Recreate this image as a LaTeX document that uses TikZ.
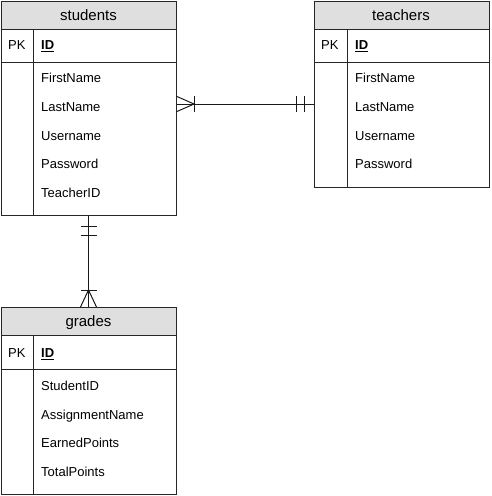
\documentclass[tikz,border=0pt]{standalone}
\usepackage{fontspec}
\setmainfont{Liberation Sans}
\usetikzlibrary{calc}
\begin{document}
\begin{tikzpicture}[x=1pt,y=-1pt,
  tbl/.style={draw=black!85, line width=1pt, anchor=north west, inner sep=0},
  hdr/.style={draw=black!85, line width=1pt, fill=gray!25, anchor=north west, inner sep=0},
  ln/.style={draw=black!85, line width=1pt},
  cn/.style={draw=black!90, line width=1pt},
  fld/.style={anchor=west, inner sep=0, font=\fontsize{13}{15}\selectfont, text height=0.72em, text depth=0pt},
  ttl/.style={inner sep=0, font=\fontsize{15}{17}\selectfont, text height=0.72em, text depth=0pt}
]
\useasboundingbox (0,0) rectangle (491,496);

% ---------- students ----------
\node[tbl, minimum width=175pt, minimum height=214pt] (students) at (1,1) {};
\node[hdr, minimum width=175pt, minimum height=28pt] (studentsH) at (1,1) {};
\node[ttl] (studentsT) at (88.5,17) {students};
\draw[ln] (1,62) -- (176,62);
\draw[ln] (33.5,29) -- (33.5,215);
\node[fld] (sPK) at (8,46) {PK};
\node[fld] (sID) at (41,46) {\textbf{\underline{ID}}};
\node[fld] (s1) at (41,79) {FirstName};
\node[fld] (s2) at (41,108) {LastName};
\node[fld] (s3) at (41,136.5) {Username};
\node[fld] (s4) at (41,165) {Password};
\node[fld] (s5) at (41,194) {TeacherID};

% ---------- teachers ----------
\node[tbl, minimum width=175.5pt, minimum height=186pt] (teachers) at (313.5,1) {};
\node[hdr, minimum width=175.5pt, minimum height=28pt] (teachersH) at (313.5,1) {};
\node[ttl] (teachersT) at (401,17) {teachers};
\draw[ln] (313.5,62) -- (489,62);
\draw[ln] (347,29) -- (347,187);
\node[fld] (tPK) at (321,46) {PK};
\node[fld] (tID) at (355,46) {\textbf{\underline{ID}}};
\node[fld] (t1) at (355,79) {FirstName};
\node[fld] (t2) at (355,108) {LastName};
\node[fld] (t3) at (355,136.5) {Username};
\node[fld] (t4) at (355,165) {Password};

% ---------- grades ----------
\node[tbl, minimum width=175pt, minimum height=187pt] (grades) at (1,307) {};
\node[hdr, minimum width=175pt, minimum height=28pt] (gradesH) at (1,307) {};
\node[ttl] (gradesT) at (88.5,323) {grades};
\draw[ln] (1,369) -- (176,369);
\draw[ln] (33.5,335) -- (33.5,494);
\node[fld] (gPK) at (8,354) {PK};
\node[fld] (gID) at (41,354) {\textbf{\underline{ID}}};
\node[fld] (g1) at (41,387) {StudentID};
\node[fld] (g2) at (41,415.5) {AssignmentName};
\node[fld] (g3) at (41,444) {EarnedPoints};
\node[fld] (g4) at (41,473) {TotalPoints};

% ---------- students -- teachers (many to one) ----------
\coordinate (st1) at (students.north east |- 0,104);
\coordinate (st2) at (teachers.north west |- 0,104);
\draw[cn] (st1) -- (st2);
\draw[cn] ($(st1)+(0,-7.5)$) -- ($(st1)+(17,0)$) -- ($(st1)+(0,7.5)$);
\draw[cn] ($(st1)+(17,-8)$) -- ($(st1)+(17,8)$);
\draw[cn] ($(st2)+(-17,-8)$) -- ($(st2)+(-17,8)$);
\draw[cn] ($(st2)+(-9,-8)$) -- ($(st2)+(-9,8)$);

% ---------- students -- grades (one to many) ----------
\coordinate (sg1) at (students.south west -| 88.5,0);
\coordinate (sg2) at (grades.north west -| 88.5,0);
\draw[cn] (sg1) -- (sg2);
\draw[cn] ($(sg1)+(-8,10)$) -- ($(sg1)+(8.5,10)$);
\draw[cn] ($(sg1)+(-8,19)$) -- ($(sg1)+(8.5,19)$);
\draw[cn] ($(sg2)+(-8,0)$) -- ($(sg2)+(0,-17)$) -- ($(sg2)+(8,0)$);
\draw[cn] ($(sg2)+(-8,-17)$) -- ($(sg2)+(8.5,-17)$);
\end{tikzpicture}
\end{document}
